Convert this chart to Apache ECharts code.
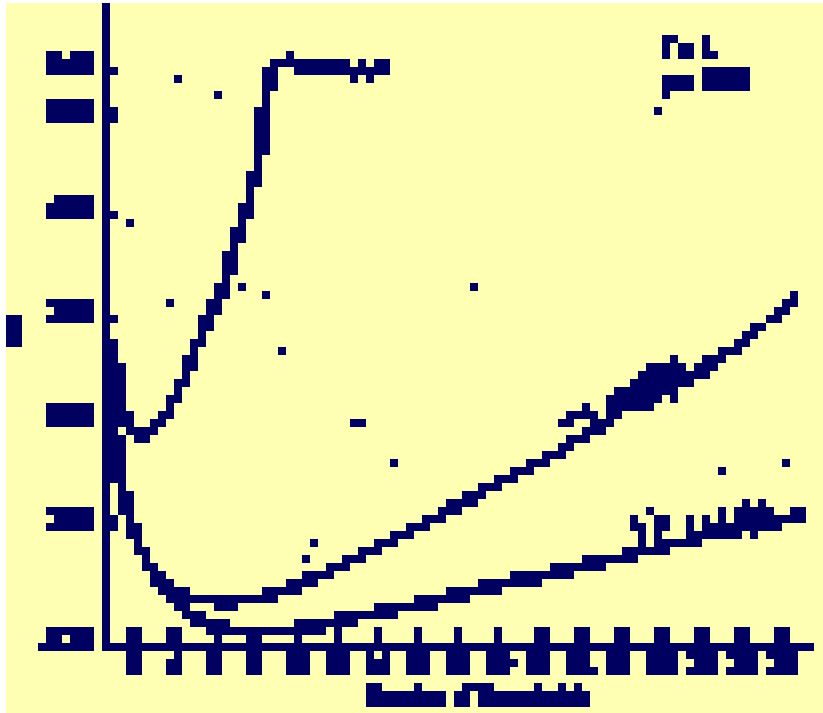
<!DOCTYPE html>
<html>
<head>
<meta charset="utf-8">
<script src="https://cdn.jsdelivr.net/npm/echarts@6/dist/echarts.min.js"></script>
<style>
  html, body { margin: 0; padding: 0; background: #ffffff; overflow: hidden; width: 823px; height: 713px; }
  #chart { position: absolute; left: 6px; top: 3px; width: 824px; height: 712px; filter: url(#bin); }
  #chart canvas { image-rendering: pixelated; }
</style>
</head>
<body>
<!-- two-tone threshold for the coarse raster look -->
<svg width="0" height="0" style="position:absolute">
  <filter id="bin" color-interpolation-filters="sRGB" filterUnits="objectBoundingBox" x="0" y="0" width="1" height="1">
    <feColorMatrix type="matrix" values="1 0 0 0 0  1 0 0 0 0  1 0 0 0 0  0 0 0 1 0"/>
    <feComponentTransfer>
      <feFuncR type="discrete" tableValues="0 0 0 0 0 0 0 1"/>
      <feFuncG type="discrete" tableValues="0 0 0 0 0 0 0 1"/>
      <feFuncB type="discrete" tableValues="0.3765 0.3765 0.3765 0.3765 0.3765 0.3765 0.3765 0.7059"/>
    </feComponentTransfer>
  </filter>
</svg>
<div id="chart"></div>
<script>
// Axis ticks
const xTicks = [2, 4, 6, 8, 10, 12, 14, 16, 18, 20, 22, 24, 26, 28, 30, 32, 34];
const yTicks = [-0.2, 1, 2, 3, 4, 5, 5.4];

// Curve rising to a plateau
const seriesA = [
  [0.85, 2.80], [1.19, 2.45], [1.39, 2.12], [1.68, 1.94], [2.1, 1.88], [2.6, 1.88],
  [3.0, 1.93], [3.3, 1.99], [3.66, 2.08], [4.05, 2.22], [4.4, 2.40], [4.84, 2.62],
  [5.2, 2.80], [5.6, 2.98], [6.0, 3.14], [6.4, 3.32], [6.8, 3.60], [7.2, 3.84],
  [7.6, 4.12], [8.0, 4.42], [8.3, 4.80], [8.5, 5.15], [8.65, 5.38], [8.8, 5.48],
  [9.1, 5.46], [9.5, 5.53], [10.0, 5.46], [10.6, 5.44], [11.2, 5.46], [11.8, 5.45],
  [12.4, 5.44], [12.8, 5.38], [13.2, 5.44], [13.6, 5.38], [14.1, 5.45], [14.62, 5.46]
];

// Upper U-shaped curve
const seriesB = [
  [0.88, 2.2], [1.09, 1.73], [1.29, 1.42], [1.59, 1.16], [1.98, 0.92], [2.38, 0.73],
  [2.77, 0.57], [3.17, 0.46], [3.6, 0.38], [4.2, 0.32], [4.8, 0.28], [5.5, 0.26],
  [6.5, 0.25], [7.5, 0.26], [8.3, 0.28], [8.9, 0.33], [10.1, 0.41], [11.1, 0.49],
  [12.0, 0.58], [13.0, 0.67], [14.0, 0.77], [15.0, 0.88], [16.0, 0.98], [17.0, 1.08],
  [18.0, 1.18], [19.0, 1.29], [20.0, 1.40], [21.0, 1.51], [22.0, 1.61], [23.0, 1.71],
  [24.0, 1.83], [25.0, 1.97], [26.0, 2.10], [27.0, 2.21], [28.0, 2.31], [29.0, 2.41],
  [30.0, 2.51], [31.0, 2.63], [32.0, 2.75], [33.0, 2.93], [34.0, 3.10], [34.6, 3.20]
];

// Lower U-shaped curve
const seriesC = [
  [0.88, 2.2], [1.09, 1.73], [1.29, 1.42], [1.59, 1.16], [1.98, 0.92], [2.38, 0.73],
  [2.77, 0.57], [3.17, 0.46], [3.6, 0.33], [4.1, 0.20], [4.6, 0.12], [5.2, 0.06],
  [5.9, 0.01], [6.8, -0.03], [7.8, -0.05], [8.8, -0.05], [9.8, -0.04], [10.8, 0.00],
  [11.8, 0.04], [12.8, 0.08], [13.8, 0.13], [14.8, 0.17], [15.8, 0.21], [16.8, 0.25],
  [17.8, 0.29], [18.8, 0.34], [19.8, 0.39], [20.8, 0.44], [21.8, 0.48], [22.8, 0.53],
  [23.8, 0.58], [24.8, 0.62], [25.8, 0.66], [26.8, 0.71], [27.8, 0.76], [28.8, 0.81],
  [29.8, 0.87], [30.8, 0.92], [31.8, 0.97], [32.8, 1.00], [33.8, 1.04], [35.1, 1.08]
];

// Individual runs bunched around the curves
const runsB = [
  [23.70, 2.05], [24.49, 2.05], [23.30, 1.97], [25.28, 1.97], [24.29, 2.13], [25.67, 2.17],
  [26.46, 2.17], [27.25, 2.17], [26.07, 2.25], [26.96, 2.29], [27.75, 2.25], [28.54, 2.29],
  [26.86, 2.36], [27.75, 2.40], [28.73, 2.36], [29.43, 2.40], [27.35, 2.46], [28.14, 2.50],
  [28.93, 2.46], [29.92, 2.50], [28.54, 2.56], [30.31, 2.56], [30.81, 2.60]
];
const runsC = [
  [27.06, 0.88], [27.85, 0.88], [27.06, 0.96], [27.85, 0.96], [26.66, 1.04], [28.04, 1.04],
  [27.45, 1.12], [29.43, 0.96], [30.21, 0.96], [31.00, 0.96], [31.79, 0.96], [32.58, 0.96],
  [29.43, 1.04], [30.21, 1.04], [31.00, 1.04], [31.79, 1.04], [33.87, 1.04], [31.00, 1.12],
  [31.79, 1.12], [32.58, 1.12], [33.37, 1.12], [34.56, 1.12], [32.19, 1.19], [32.98, 1.19]
];
const outliers = [
  [4.15, 5.34], [6.13, 5.18], [1.78, 3.93], [3.76, 3.15], [7.31, 3.31], [8.50, 3.23],
  [9.29, 2.69], [18.76, 3.31], [12.84, 1.97], [13.24, 1.97], [14.82, 1.59], [31.00, 1.52],
  [34.16, 1.59], [27.85, 5.03], [10.87, 0.80], [10.47, 0.65]
];

const NAVY = '#000060';
const PAPER = '#ffffb4';
const FONT = 'Liberation Sans, Arial, sans-serif';

const chart = echarts.init(document.getElementById('chart'), null, {
  renderer: 'canvas',
  devicePixelRatio: 0.125
});

const lineSeries = (name, data) => ({
  name, type: 'line', data, showSymbol: false, smooth: false,
  lineStyle: { color: NAVY, width: 6 }, z: 3
});
const dotSeries = (name, data, size) => ({
  name, type: 'scatter', data, symbol: 'rect', symbolSize: size,
  itemStyle: { color: NAVY }, z: 4
});

chart.setOption({
  animation: false,
  backgroundColor: PAPER,
  textStyle: { fontFamily: FONT, color: NAVY },
  title: {
    text: 'T = 1\np = 0.05',
    left: 649, top: 26,
    textStyle: { fontSize: 24, lineHeight: 32, fontWeight: 'bold', color: NAVY, fontFamily: FONT }
  },
  grid: { left: 100, right: 24, top: 8, bottom: 68, containLabel: false, outerBoundsMode: 'none' },
  xAxis: {
    type: 'value', min: 0.6, max: 35.15,
    name: 'Number of Thresholds', nameLocation: 'middle', nameGap: 43,
    nameTextStyle: { fontSize: 21, fontWeight: 'bold', color: NAVY, padding: [0, 0, 0, 44] },
    axisLine: { show: true, onZero: false, lineStyle: { color: NAVY, width: 4 } },
    axisTick: { show: true, inside: true, length: 22, customValues: xTicks, lineStyle: { color: NAVY, width: 4 } },
    axisLabel: { show: true, customValues: xTicks, margin: 8, fontSize: 22, fontWeight: 'bold', color: NAVY },
    splitLine: { show: false }
  },
  yAxis: {
    type: 'value', min: -0.2, max: 6.0,
    name: 'ms', nameLocation: 'middle', nameGap: 66,
    nameTextStyle: { fontSize: 26, color: NAVY },
    axisLine: { show: true, lineStyle: { color: NAVY, width: 4 } },
    axisTick: { show: true, inside: true, length: 10, customValues: yTicks, lineStyle: { color: NAVY, width: 4 } },
    axisLabel: { show: true, customValues: yTicks, margin: 15, fontSize: 22, fontWeight: 'bold', color: NAVY,
      padding: [12, 0, 0, 0], formatter: v => v.toFixed(2) },
    splitLine: { show: false }
  },
  series: [
    lineSeries('Plateau', seriesA),
    lineSeries('Upper', seriesB),
    lineSeries('Lower', seriesC),
    dotSeries('Upper runs', runsB, 9),
    dotSeries('Lower runs', runsC, 9),
    dotSeries('Outliers', outliers, 6)
  ]
});
</script>
</body>
</html>
